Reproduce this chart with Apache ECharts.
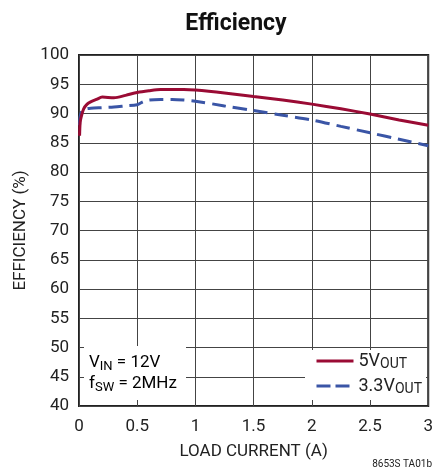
<!DOCTYPE html>
<html>
<head>
<meta charset="utf-8">
<script src="https://cdn.jsdelivr.net/npm/echarts@6/dist/echarts.min.js"></script>
<style>
  html, body { margin: 0; padding: 0; background: #fff; }
  #main { width: 436px; height: 474px; }
</style>
</head>
<body>
<div id="main"></div>
<script>
'use strict';

var FONT = 'Roboto, "Liberation Sans", sans-serif';

// load current (A) and efficiency (%)
var current5V = [0.005, 0.01, 0.02, 0.04, 0.07, 0.1, 0.15, 0.2, 0.3, 0.4, 0.5, 0.6, 0.7, 0.8, 0.9, 1.0, 1.25, 1.5, 1.75, 2.0, 2.25, 2.5, 2.75, 3.0];
var eff5V = [86.2, 88.5, 89.5, 90.8, 91.6, 92.0, 92.4, 92.8, 92.7, 93.1, 93.6, 93.9, 94.1, 94.1, 94.1, 94.0, 93.5, 92.9, 92.3, 91.6, 90.8, 89.9, 88.9, 88.0];

var current3V3 = [0.005, 0.01, 0.03, 0.06, 0.1, 0.2, 0.3, 0.4, 0.5, 0.55, 0.6, 0.7, 0.8, 0.9, 1.0, 1.25, 1.5, 1.75, 2.0, 2.25, 2.5, 2.75, 3.0];
var eff3V3 = [88.0, 89.5, 90.6, 90.8, 90.9, 91.0, 91.1, 91.3, 91.5, 92.0, 92.3, 92.4, 92.4, 92.3, 92.1, 91.3, 90.5, 89.7, 88.9, 87.8, 86.7, 85.6, 84.5];

var seriesNames = ['5V', '3.3V'];

var RED = '#9a0b34';
var BLUE = '#3a55a6';

var pairs = function (xs, ys) {
    var res = [];
    for (var i = 0; i < xs.length; i++) {
        res.push([xs[i], ys[i]]);
    }
    return res;
};

var myChart = echarts.init(document.getElementById('main'));

var subRich = {
    main: { fontFamily: FONT, fontSize: 17, color: '#222' },
    sub: { fontFamily: FONT, fontSize: 13, color: '#222', verticalAlign: 'bottom', padding: [6, 0, 0, 0] }
};

var legendRich = {
    main: { fontFamily: FONT, fontSize: 18, color: '#222' },
    sub: { fontFamily: FONT, fontSize: 14, color: '#222', verticalAlign: 'bottom', padding: [6, 0, 0, 0] }
};

var option = {
    backgroundColor: '#fff',
    animation: false,
    title: {
        text: 'Efficiency',
        left: 231,
        top: 8,
        textAlign: 'center',
        textStyle: {
            fontFamily: FONT,
            fontSize: 23,
            fontWeight: 'bold',
            color: '#111'
        }
    },
    grid: {
        left: 79,
        right: 6,
        top: 55,
        bottom: 68,
        show: true,
        borderColor: '#222',
        borderWidth: 2
    },
    legend: {
        right: 10,
        top: 350,
        orient: 'vertical',
        itemWidth: 37,
        itemHeight: 12,
        itemGap: 6,
        backgroundColor: '#fff',
        padding: [2, 4, 4, 10],
        data: [
            { name: seriesNames[0], itemStyle: { opacity: 0 }, lineStyle: { color: RED, width: 3 } },
            { name: seriesNames[1], itemStyle: { opacity: 0 }, lineStyle: { color: BLUE, width: 3, type: [14, 5] } }
        ],
        formatter: function (name) {
            return '{main|' + name + '}{sub|OUT}';
        },
        textStyle: {
            rich: legendRich
        }
    },
    xAxis: {
        type: 'value',
        min: 0,
        max: 3,
        interval: 0.5,
        name: 'LOAD CURRENT (A)',
        nameLocation: 'middle',
        nameGap: 37,
        nameTextStyle: { fontFamily: FONT, fontSize: 17, color: '#222' },
        axisLine: { show: false },
        axisTick: { show: false },
        axisLabel: { fontFamily: FONT, fontSize: 17, color: '#222', margin: 12 },
        splitLine: { lineStyle: { color: '#444', width: 1 } }
    },
    yAxis: {
        type: 'value',
        min: 40,
        max: 100,
        interval: 5,
        name: 'EFFICIENCY (%)',
        nameLocation: 'middle',
        nameGap: 41,
        nameTextStyle: { fontFamily: FONT, fontSize: 17, color: '#222' },
        axisLine: { show: false },
        axisTick: { show: false },
        axisLabel: { fontFamily: FONT, fontSize: 17, color: '#222', margin: 10 },
        splitLine: { lineStyle: { color: '#444', width: 1 } }
    },
    graphic: [
        {
            type: 'rect',
            shape: { x: 84, y: 346, width: 102, height: 54 },
            style: { fill: '#fff' },
            z: 5
        },
        {
            type: 'text',
            left: 89,
            top: 352,
            z: 6,
            style: {
                text: '{main|V}{sub|IN}{main| = 12V}\n{main|f}{sub|SW}{main| = 2MHz}',
                rich: subRich,
                lineHeight: 21
            }
        },
        {
            type: 'text',
            right: 4,
            top: 459,
            style: {
                text: '8653S TA01b',
                fontFamily: FONT,
                fontSize: 10,
                fill: '#222'
            }
        }
    ],
    series: [
        {
            name: seriesNames[0],
            type: 'line',
            data: pairs(current5V, eff5V),
            symbol: 'none',
            smooth: 0.3,
            lineStyle: { color: RED, width: 3 },
            itemStyle: { color: RED },
            z: 3
        },
        {
            name: seriesNames[1],
            type: 'line',
            data: pairs(current3V3, eff3V3),
            symbol: 'none',
            smooth: 0.3,
            lineStyle: { color: BLUE, width: 3, type: [14, 7] },
            itemStyle: { color: BLUE },
            z: 2
        }
    ]
};

myChart.setOption(option);
</script>
</body>
</html>
